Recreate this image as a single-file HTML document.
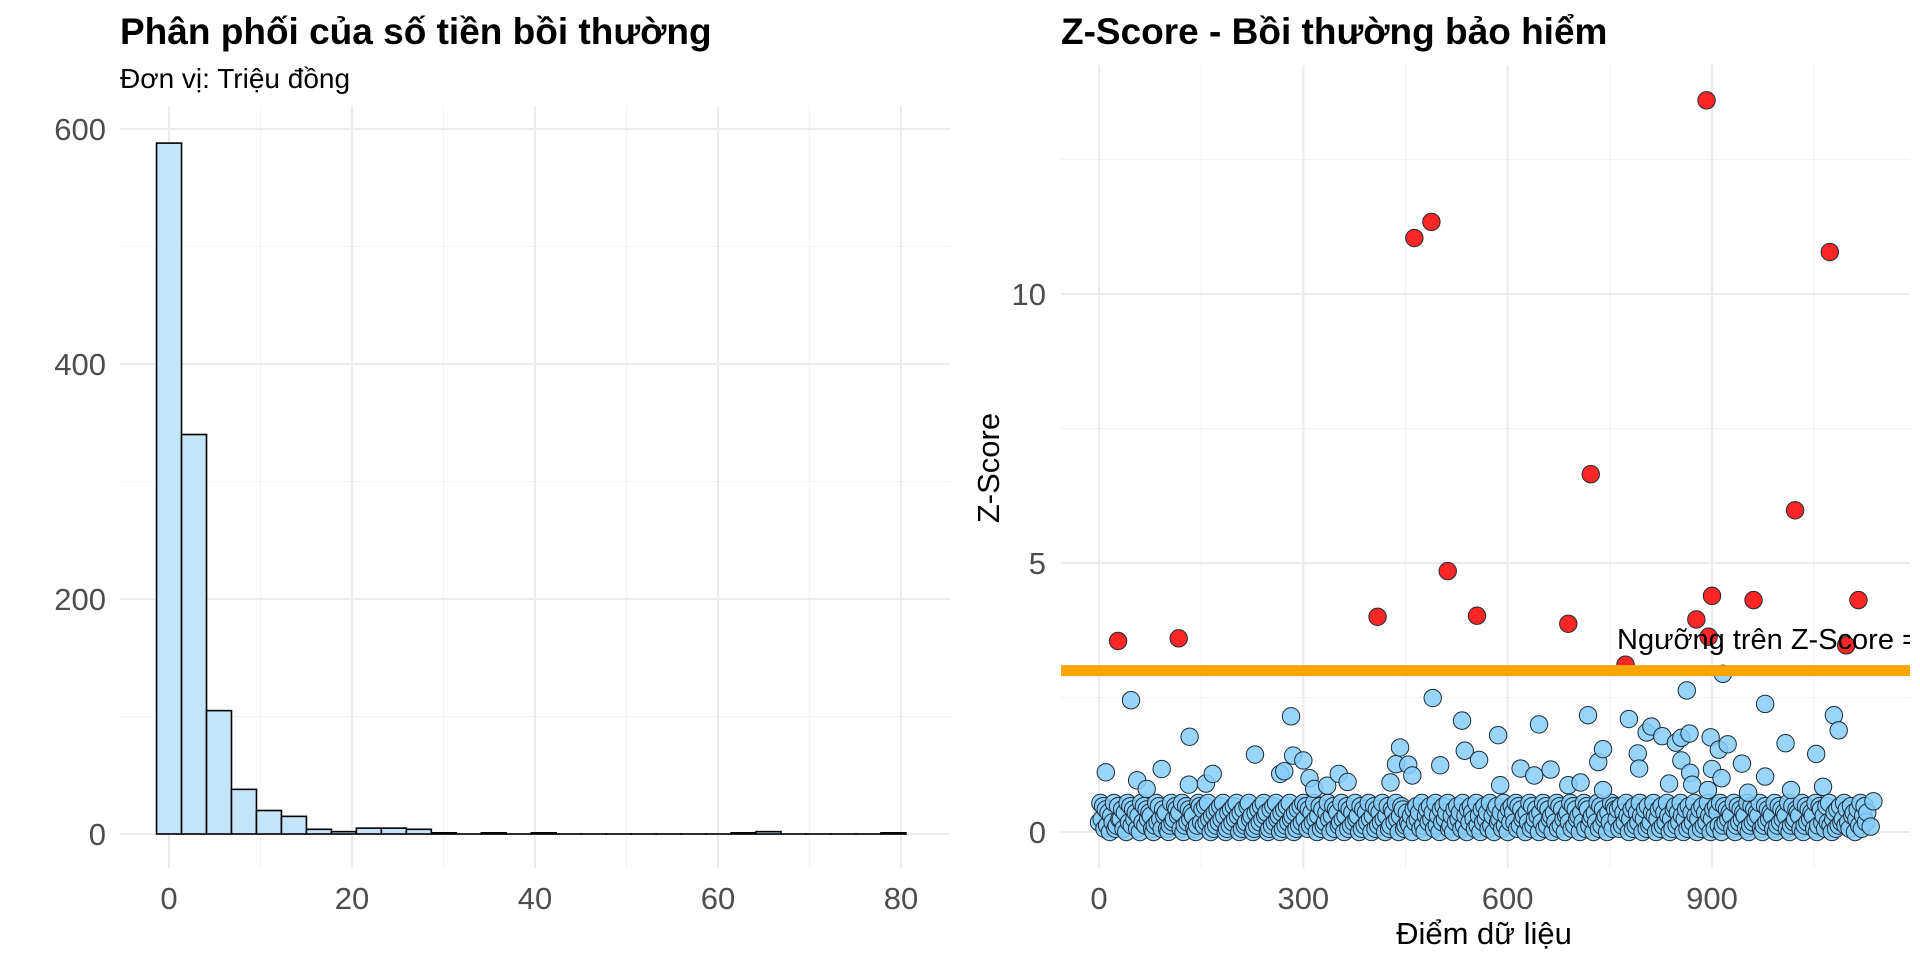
<!DOCTYPE html>
<html><head><meta charset="utf-8">
<style>
html,body{margin:0;padding:0;background:#fff;}
svg{display:block;font-family:"Liberation Sans",Arial,sans-serif;}
</style></head>
<body>
<svg id="chart" width="1920" height="960" viewBox="0 0 1920 960">
<g id="left"></g>
<g id="right"></g>
<text x="120" y="44" font-size="37" font-weight="bold" fill="#000">Phân phối của số tiền bồi thường</text>
<text x="120" y="88" font-size="28" fill="#000">Đơn vị: Triệu đồng</text>
<text x="1061" y="44" font-size="37" font-weight="bold" fill="#000">Z-Score - Bồi thường bảo hiểm</text>
<text x="1484" y="944" font-size="31" fill="#000" text-anchor="middle">Điểm dữ liệu</text>
<text x="0" y="0" font-size="31" fill="#000" text-anchor="middle" transform="translate(999,468) rotate(-90)">Z-Score</text>
</svg>
<script>
// ---- Histogram data ----
const histBinStart = -1.36;
const histBinWidth = 2.73;
const histCounts = [588,340,105,38,20,15,4,2,5,5,4,1,0,1,0,1,0,0,0,0,0,0,0,1,2,0,0,0,0,1];
const histXTicks = [0,20,40,60,80];
const histXMinor = [10,30,50,70];
const histYTicks = [0,200,400,600];
const histYMinor = [100,300,500];

// ---- Z-score data ----
const zThreshold = 3;
const zXTicks = [0,300,600,900];
const zXMinor = [150,450,750,1050];
const zYTicks = [0,5,10];
const zYMinor = [2.5,7.5,12.5];
const outlierIdx = [28,117,409,463,488,512,555,689,722,773,877,892,895,900,961,1022,1073,1097,1115];
const outlierZ = [3.55,3.6,4.0,11.04,11.34,4.85,4.02,3.87,6.65,3.11,3.95,13.6,3.63,4.39,4.31,5.98,10.78,3.47,4.31];
const midIdx = [10,47,56,70,92,133,132,157,167,229,266,272,282,285,300,309,316,335,352,365,428,436,442,454,460,490,501,533,537,558,586,589,619,639,646,663,689,707,718,733,740,740,778,791,793,804,811,827,837,847,855,855,863,867,868,871,894,898,900,910,914,916,923,944,953,978,978,1008,1016,1053,1063,1079,1086,1137,1133];
const midZ = [1.11,2.45,0.96,0.8,1.17,1.77,0.88,0.9,1.08,1.44,1.08,1.13,2.15,1.42,1.33,1.0,0.8,0.86,1.08,0.93,0.92,1.26,1.57,1.25,1.05,2.49,1.24,2.07,1.51,1.34,1.8,0.87,1.18,1.05,2.0,1.16,0.87,0.92,2.17,1.3,1.54,0.78,2.1,1.46,1.18,1.85,1.96,1.78,0.9,1.66,1.33,1.75,2.63,1.83,1.1,0.88,0.78,1.76,1.17,1.53,1.0,2.94,1.63,1.27,0.73,2.38,1.03,1.65,0.78,1.45,0.84,2.17,1.89,0.57,0.1];
// band values: one digit per 2 indices, z = digit * 0.06
const bandDigits =
"3948172605391284471609382746150938274651029384175610293487561902837465102983" +
"7283940516273849501627384950617238945016273849560172839450617283945061728394" +
"8172639405817236940581762394058172639450817263940581726394058127639405871263" +
"2507384619205738461925073846912507384619250738641925073846192507834619250738" +
"6391827450639182475063918274506391827405639182745063918724506391827450639187" +
"4718263950471826395047182369504718263950417826395047182639504718263950471862" +
"9028374651902837465190283746591028374651902837465190283476519028374651902873" +
"51839204617283" + "4927318560472915836";

const NS='http://www.w3.org/2000/svg';
function mk(tag, attrs, parent){const e=document.createElementNS(NS,tag);for(const k in attrs)e.setAttribute(k,attrs[k]);parent.appendChild(e);return e;}

// ---- Left panel ----
const L=document.getElementById('left');
const hx=v=>169+(v-0)*(901-169)/80;
const hy=v=>834-v*(834-129)/600;
const Lx0=120,Lx1=950,Ly0=106,Ly1=868;
histYMinor.forEach(v=>{const l=mk('line',{x1:Lx0,x2:Lx1,y1:hy(v),y2:hy(v),stroke:'#f2f2f2','stroke-width':1},L);

});
histXMinor.forEach(v=>{const l=mk('line',{x1:hx(v),x2:hx(v),y1:Ly0,y2:Ly1,stroke:'#f2f2f2','stroke-width':1},L);

});
histYTicks.forEach(v=>{const l=mk('line',{x1:Lx0,x2:Lx1,y1:hy(v),y2:hy(v),stroke:'#ebebeb','stroke-width':2},L);


const t=mk('text',{x:106,y:hy(v)+11,'font-size':31,fill:'#4d4d4d','text-anchor':'end'},L);t.textContent=v;

});
histXTicks.forEach(v=>{const l=mk('line',{x1:hx(v),x2:hx(v),y1:Ly0,y2:Ly1,stroke:'#ebebeb','stroke-width':2},L);


const t=mk('text',{x:hx(v),y:909,'font-size':31,fill:'#4d4d4d','text-anchor':'middle'},L);t.textContent=v;

});
histCounts.forEach((c,i)=>{const a=histBinStart+i*histBinWidth;const x0=hx(a),x1=hx(a+histBinWidth);
const r=mk('rect',{x:x0,y:hy(c),width:x1-x0,height:Math.max(hy(0)-hy(c),0.01),fill:'#c3e4f9',stroke:'#000','stroke-width':1.6},L);

});

// ---- Right panel ----
const R=document.getElementById('right');
const zx=v=>1099+v*(1712-1099)/900;
const zy=v=>832-v*(832-294)/10;
const Rx0=1061,Rx1=1910,Ry0=65,Ry1=868;
zYMinor.forEach(v=>{const l=mk('line',{x1:Rx0,x2:Rx1,y1:zy(v),y2:zy(v),stroke:'#f2f2f2','stroke-width':1},R);

});
zXMinor.forEach(v=>{const l=mk('line',{x1:zx(v),x2:zx(v),y1:Ry0,y2:Ry1,stroke:'#f2f2f2','stroke-width':1},R);

});
zYTicks.forEach(v=>{const l=mk('line',{x1:Rx0,x2:Rx1,y1:zy(v),y2:zy(v),stroke:'#ebebeb','stroke-width':2},R);


const t=mk('text',{x:1046,y:zy(v)+11,'font-size':31,fill:'#4d4d4d','text-anchor':'end'},R);t.textContent=v;

});
zXTicks.forEach(v=>{const l=mk('line',{x1:zx(v),x2:zx(v),y1:Ry0,y2:Ry1,stroke:'#ebebeb','stroke-width':2},R);


const t=mk('text',{x:zx(v),y:909,'font-size':31,fill:'#4d4d4d','text-anchor':'middle'},R);t.textContent=v;

});
const clip=mk('clipPath',{id:'rclip'},R);mk('rect',{x:Rx0,y:Ry0,width:Rx1-Rx0,height:Ry1-Ry0},clip);
const P=mk('g',{'clip-path':'url(#rclip)'},R);
function pt(x,z,fill,name){const c=mk('circle',{cx:zx(x),cy:zy(z),r:8.7,fill:fill,'fill-opacity':0.85,stroke:'#1c2b36','stroke-width':1},P);

}
for(let i=0;i<bandDigits.length;i++){pt(i*2,(+bandDigits[i])*0.06,'#87cefa','normal-point');}
midIdx.forEach((x,i)=>pt(x,midZ[i],'#87cefa','normal-point'));
outlierIdx.forEach((x,i)=>pt(x,outlierZ[i],'#ff0000','outlier-point'));
const th=mk('line',{x1:Rx0,x2:Rx1,y1:zy(zThreshold),y2:zy(zThreshold),stroke:'#ffa500','stroke-width':11},P);


const tl=mk('text',{x:1617,y:649,'font-size':29,fill:'#000'},P);tl.textContent='Ngưỡng trên Z-Score = 3';


</script>
</body></html>
